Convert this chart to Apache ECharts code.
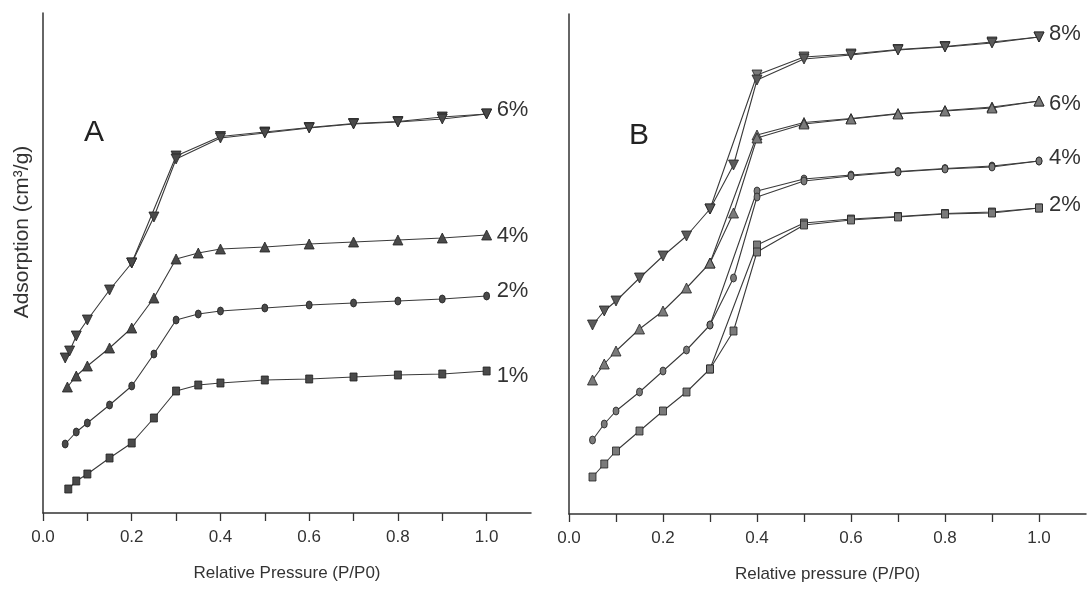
<!DOCTYPE html>
<html>
<head>
<meta charset="utf-8">
<script src="https://cdn.jsdelivr.net/npm/echarts@6/dist/echarts.min.js"></script>
<style>
  html, body { margin: 0; padding: 0; background: #fff; }
  #chart { width: 1092px; height: 592px; }
</style>
</head>
<body>
<div id="chart"></div>
<script>
// panel A : adsorption isotherms, 1-6 %
const pA6 = [0.05, 0.06, 0.075, 0.1, 0.15, 0.2, 0.25, 0.3, 0.4, 0.5, 0.6, 0.7, 0.8, 0.9, 1.0];
const vA6 = [31.0, 32.4, 35.4, 38.6, 44.6, 50.0, 59.2, 70.8, 75.0, 76.0, 77.0, 77.8, 78.2, 78.8, 79.8];
const pA4 = [0.055, 0.075, 0.1, 0.15, 0.2, 0.25, 0.3, 0.35, 0.4, 0.5, 0.6, 0.7, 0.8, 0.9, 1.0];
const vA4 = [25.2, 27.4, 29.4, 33.0, 37.0, 43.0, 50.8, 52.0, 52.8, 53.2, 53.8, 54.2, 54.6, 55.0, 55.6];
const pA2 = [0.05, 0.075, 0.1, 0.15, 0.2, 0.25, 0.3, 0.35, 0.4, 0.5, 0.6, 0.7, 0.8, 0.9, 1.0];
const vA2 = [13.8, 16.2, 18.0, 21.6, 25.4, 31.8, 38.6, 39.8, 40.4, 41.0, 41.6, 42.0, 42.4, 42.8, 43.4];
const pA1 = [0.057, 0.075, 0.1, 0.15, 0.2, 0.25, 0.3, 0.35, 0.4, 0.5, 0.6, 0.7, 0.8, 0.9, 1.0];
const vA1 = [4.8, 6.4, 7.8, 11.0, 14.0, 19.0, 24.4, 25.6, 26.0, 26.6, 26.8, 27.2, 27.6, 27.8, 28.4];
// desorption branch of 6% (panel A)
const dA6p = [0.2, 0.3, 0.4, 0.5, 0.6, 0.7, 0.8, 0.9, 1.0];
const dA6v = [50.0, 71.4, 75.3, 76.2, 77.1, 77.9, 78.3, 79.2, 79.8];

// panel B : 2-8 %
const pB = [0.05, 0.075, 0.1, 0.15, 0.2, 0.25, 0.3, 0.35, 0.4, 0.5, 0.6, 0.7, 0.8, 0.9, 1.0];
const vB8 = [37.8, 40.6, 42.6, 47.2, 51.6, 55.6, 61.0, 69.8, 86.8, 91.0, 91.8, 92.8, 93.4, 94.2, 95.4];
const vB6 = [26.8, 30.0, 32.6, 37.0, 40.6, 45.2, 50.2, 60.2, 75.2, 78.0, 79.0, 80.0, 80.6, 81.2, 82.6];
const vB4 = [14.8, 18.0, 20.6, 24.4, 28.6, 32.8, 37.8, 47.2, 63.4, 66.6, 67.6, 68.4, 69.0, 69.4, 70.6];
const vB2 = [7.4, 10.0, 12.6, 16.6, 20.6, 24.4, 29.0, 36.6, 52.4, 57.8, 58.8, 59.4, 60.0, 60.2, 61.2];
// desorption branches (panel B)
const dBp = [0.3, 0.4, 0.5, 0.6, 0.7, 0.8, 0.9, 1.0];
const dB8 = [61.0, 87.8, 91.4, 92.0, 92.9, 93.5, 94.4, 95.4];
const dB6 = [50.2, 75.8, 78.3, 79.1, 80.1, 80.7, 81.4, 82.6];
const dB4 = [37.8, 64.6, 67.0, 67.8, 68.5, 69.1, 69.6, 70.6];
const dB2 = [29.0, 53.8, 58.2, 59.0, 59.5, 60.1, 60.4, 61.2];

const pair = (xs, ys) => xs.map((x, i) => [x, ys[i]]);

const plain = "'Liberation Sans', Arial, sans-serif";

const chart = echarts.init(document.getElementById('chart'));

const xAxisBase = (idx, name) => ({
  type: 'value',
  gridIndex: idx,
  min: 0,
  max: 1.1,
  interval: 0.1,
  name: name,
  nameLocation: 'middle',
  nameGap: 52,
  nameTextStyle: { fontFamily: plain, fontSize: 17, color: '#333' },
  axisLine: { lineStyle: { color: '#333', width: 1.5 } },
  axisTick: { length: 8, lineStyle: { color: '#333', width: 1.3 } },
  axisLabel: {
    margin: 16,
    fontFamily: plain,
    fontSize: 17,
    color: '#333',
    showMaxLabel: false,
    formatter: v => (Math.round(v * 10) % 2 === 0 ? v.toFixed(1) : '')
  },
  splitLine: { show: false }
});

const yAxisBase = idx => ({
  type: 'value',
  gridIndex: idx,
  min: 0,
  max: 100,
  axisLine: { show: true, lineStyle: { color: '#333', width: 1.5 } },
  axisTick: { show: false },
  axisLabel: { show: false },
  splitLine: { show: false }
});

function line(name, idx, data, symbol, opt) {
  opt = opt || {};
  const s = {
    name: name,
    type: 'line',
    xAxisIndex: idx,
    yAxisIndex: idx,
    data: data,
    symbol: symbol,
    symbolSize: opt.size || 9,
    symbolRotate: opt.rotate || 0,
    showAllSymbol: true,
    silent: true,
    lineStyle: { color: '#3a3a3a', width: 1.1 },
    itemStyle: { color: opt.fill || '#4a4a4a', borderColor: '#222', borderWidth: 0.8 },
    z: opt.z || 3
  };
  if (opt.label) {
    s.endLabel = {
      show: true,
      formatter: '{a}',
      distance: 10,
      offset: opt.offset || [0, 0],
      fontFamily: plain,
      fontSize: 22,
      color: '#333'
    };
  }
  return s;
}

const fillA = '#4a4a4a';
const fillB = '#7a7a7a';

const option = {
  animation: false,
  grid: [
    { left: 43, top: 13, width: 488, bottom: 79 },
    { left: 569, top: 14, width: 517, bottom: 78 }
  ],
  xAxis: [
    xAxisBase(0, 'Relative Pressure (P/P0)'),
    xAxisBase(1, 'Relative pressure (P/P0)')
  ],
  yAxis: [yAxisBase(0), yAxisBase(1)],
  series: [
    line('6%d', 0, pair(dA6p, dA6v), 'triangle', { rotate: 180, size: 10, fill: fillA, z: 2 }),
    line('6%', 0, pair(pA6, vA6), 'triangle', { rotate: 180, size: 10, fill: fillA, label: true, offset: [0, -4] }),
    line('4%', 0, pair(pA4, vA4), 'triangle', { size: 10, fill: fillA, label: true, offset: [0, 1] }),
    line('2%', 0, pair(pA2, vA2), 'circle', { size: [6, 8], fill: fillA, label: true, offset: [0, -5] }),
    line('1%', 0, pair(pA1, vA1), 'rect', { size: [7, 8], fill: fillA, label: true, offset: [0, 5] }),

    line('8%d', 1, pair(dBp, dB8), 'triangle', { rotate: 180, size: 10, fill: fillB, z: 2 }),
    line('6%d', 1, pair(dBp, dB6), 'triangle', { size: 10, fill: fillB, z: 2 }),
    line('4%d', 1, pair(dBp, dB4), 'circle', { size: [6, 8], fill: fillB, z: 2 }),
    line('2%d', 1, pair(dBp, dB2), 'rect', { size: [7, 8], fill: fillB, z: 2 }),
    line('8%', 1, pair(pB, vB8), 'triangle', { rotate: 180, size: 10, fill: '#5a5a5a', label: true, offset: [0, -3] }),
    line('6%', 1, pair(pB, vB6), 'triangle', { size: 10, fill: fillB, label: true, offset: [0, 3] }),
    line('4%', 1, pair(pB, vB4), 'circle', { size: [6, 8], fill: fillB, label: true, offset: [0, -3] }),
    line('2%', 1, pair(pB, vB2), 'rect', { size: [7, 8], fill: fillB, label: true, offset: [0, -3] })
  ],
  graphic: [
    {
      type: 'text',
      x: 22, y: 232,
      rotation: Math.PI / 2,
      style: {
        text: 'Adsorption (cm³/g)',
        fontFamily: plain,
        fontSize: 21,
        fill: '#333',
        align: 'center',
        verticalAlign: 'middle'
      }
    },
    {
      type: 'text', x: 94, y: 133,
      style: { text: 'A', fontFamily: plain, fontSize: 30, fill: '#222', align: 'center', verticalAlign: 'middle' }
    },
    {
      type: 'text', x: 639, y: 136,
      style: { text: 'B', fontFamily: plain, fontSize: 30, fill: '#222', align: 'center', verticalAlign: 'middle' }
    }
  ]
};

chart.setOption(option);
</script>
</body>
</html>
